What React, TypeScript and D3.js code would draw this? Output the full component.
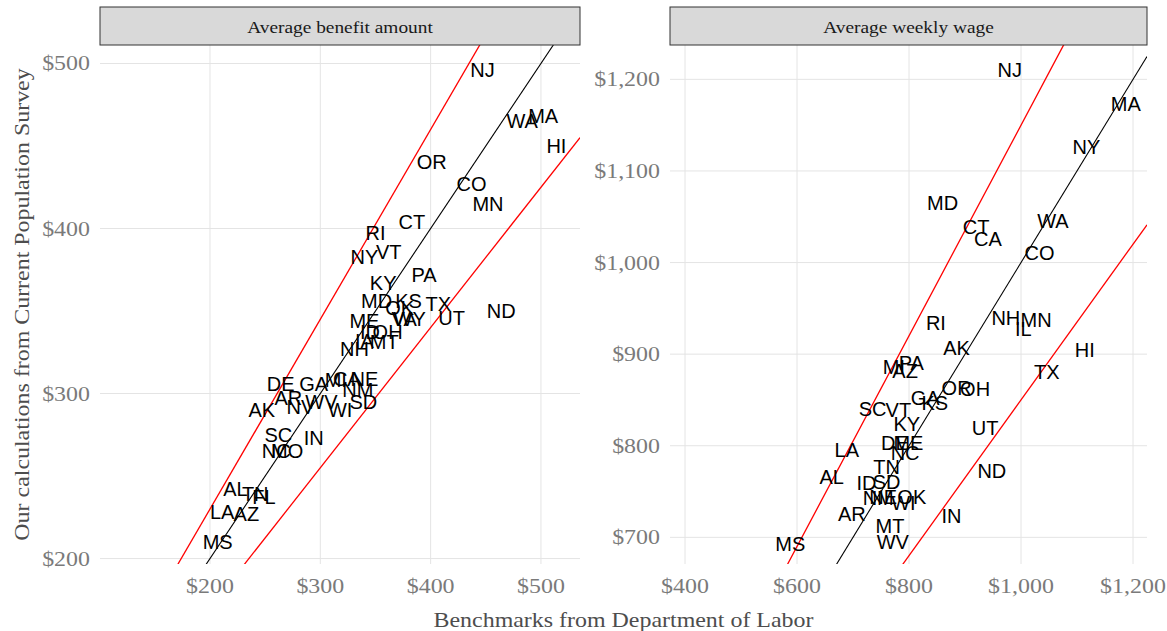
import React, { useEffect, useRef } from 'react'
import * as d3 from 'd3'

const W = 1167
const H = 631

// Average benefit amount (DOL benchmark vs CPS estimate)
const benefitStates = ['NJ', 'WA', 'MA', 'HI', 'OR', 'CO', 'MN', 'CT', 'RI', 'NY', 'VT', 'PA', 'KY', 'MD', 'KS', 'OK', 'TX', 'UT', 'ND', 'ME', 'VA', 'WY', 'ID', 'OH', 'IA', 'MT', 'NH', 'DE', 'GA', 'MI', 'CA', 'NE', 'NM', 'AR', 'NV', 'WV', 'WI', 'SD', 'AK', 'SC', 'IN', 'NC', 'MO', 'AL', 'TN', 'FL', 'LA', 'AZ', 'MS']
const benefitDol = [447, 483, 502, 514, 401, 437, 452, 383, 350, 340, 362, 394, 357, 351, 380, 372, 407, 419, 464, 340, 376, 381, 345, 361, 340, 358, 331, 264, 294, 314, 324, 340, 334, 271, 282, 301, 318, 339, 247, 262, 294, 260, 270, 223, 241, 249, 211, 233, 207]
const benefitCps = [496, 465, 468, 450, 440, 427, 415, 404, 397, 383, 386, 372, 367, 356, 356, 352, 354, 346, 350, 344, 345, 345, 337, 337, 332, 331, 327, 306, 306, 308, 309, 309, 302, 297, 292, 295, 290, 295, 290, 275, 273, 265, 265, 242, 239, 237, 228, 227, 210]
const benefitTicks = [200, 300, 400, 500]

// Average weekly wage
const wageStates = ['NJ', 'MA', 'NY', 'MD', 'CT', 'CA', 'WA', 'CO', 'RI', 'NH', 'MN', 'IL', 'AK', 'HI', 'TX', 'MI', 'PA', 'AZ', 'OR', 'OH', 'GA', 'KS', 'SC', 'VT', 'KY', 'UT', 'LA', 'DE', 'ME', 'NC', 'TN', 'ND', 'AL', 'ID', 'SD', 'NE', 'NM', 'OK', 'WI', 'AR', 'IN', 'MT', 'WV', 'MS']
const wageDol = [980, 1187, 1117, 860, 920, 941, 1057, 1033, 848, 973, 1027, 1004, 885, 1114, 1046, 773, 804, 793, 885, 918, 829, 846, 735, 781, 796, 936, 689, 775, 799, 793, 760, 948, 662, 724, 760, 754, 745, 805, 790, 698, 876, 766, 771, 588]
const wageCps = [1210, 1173, 1126, 1065, 1039, 1026, 1045, 1010, 934, 939, 937, 927, 907, 905, 881, 886, 890, 882, 863, 862, 852, 847, 840, 839, 824, 819, 795, 803, 803, 792, 777, 772, 766, 759, 760, 744, 743, 744, 737, 726, 723, 712, 695, 693]
const wageXTicks = [400, 600, 800, 1000, 1200]
const wageYTicks = [700, 800, 900, 1000, 1100, 1200]

// reference lines: CPS = ratio * DOL
const lineRatios = [1, 1.15, 0.85]
const lineColors = ['#000000', '#ff0000', '#ff0000']

const PANEL_TOP = 45
const PANEL_BOTTOM = 564
const SERIF = '"Liberation Serif", "Times New Roman", serif'
const SANS = '"Liberation Sans", Arial, sans-serif'
const STRETCH = 1.14 // serif text in the reference is drawn a bit wide

const panels = [
  {
    title: 'Average benefit amount',
    states: benefitStates, dol: benefitDol, cps: benefitCps,
    xTicks: benefitTicks, yTicks: benefitTicks,
    xDomain: [100.3, 535.4], yDomain: [196.7, 511.2],
    left: 100, right: 580,
  },
  {
    title: 'Average weekly wage',
    states: wageStates, dol: wageDol, cps: wageCps,
    xTicks: wageXTicks, yTicks: wageYTicks,
    xDomain: [373.2, 1225], yDomain: [670.9, 1237.5],
    left: 670, right: 1147,
  },
]

const fmt = d3.format('$,')

export default function App() {
  const svgRef = useRef<SVGSVGElement>(null)

  useEffect(() => {
    if (!svgRef.current) return
    const svg = d3.select(svgRef.current)
    svg.selectAll('*').remove()

    svg.append('rect').attr('width', W).attr('height', H).attr('fill', '#fff')
    const defs = svg.append('defs')

    panels.forEach((p, i) => {
      const x = d3.scaleLinear().domain(p.xDomain).range([p.left, p.right])
      const y = d3.scaleLinear().domain(p.yDomain).range([PANEL_BOTTOM, PANEL_TOP])
      const g = svg.append('g')

      // grid
      g.selectAll('line.vx')
        .data(p.xTicks)
        .join('line')
        .attr('x1', (d) => x(d)).attr('x2', (d) => x(d))
        .attr('y1', PANEL_TOP).attr('y2', PANEL_BOTTOM)
        .attr('stroke', '#e4e4e4').attr('stroke-width', 1)
      g.selectAll('line.hy')
        .data(p.yTicks)
        .join('line')
        .attr('x1', p.left).attr('x2', p.right)
        .attr('y1', (d) => y(d)).attr('y2', (d) => y(d))
        .attr('stroke', '#e4e4e4').attr('stroke-width', 1)

      // clip for ablines
      const clipId = `clip-${i}`
      defs.append('clipPath').attr('id', clipId)
        .append('rect')
        .attr('x', p.left).attr('y', PANEL_TOP)
        .attr('width', p.right - p.left).attr('height', PANEL_BOTTOM - PANEL_TOP)

      const [x0, x1] = p.xDomain
      g.append('g').attr('clip-path', `url(#${clipId})`)
        .selectAll('line')
        .data(lineRatios)
        .join('line')
        .attr('x1', x(x0)).attr('x2', x(x1))
        .attr('y1', (r) => y(r * x0)).attr('y2', (r) => y(r * x1))
        .attr('stroke', (_, k) => lineColors[k])
        .attr('stroke-width', (_, k) => (k === 0 ? 1.1 : 1.3))

      // state labels
      g.selectAll('text.st')
        .data(p.states)
        .join('text')
        .attr('x', (_, k) => x(p.dol[k]))
        .attr('y', (_, k) => y(p.cps[k]))
        .attr('text-anchor', 'middle')
        .attr('dominant-baseline', 'central')
        .attr('font-family', SANS)
        .attr('font-size', 20)
        .attr('fill', '#000')
        .text((d) => d)

      // strip
      g.append('rect')
        .attr('x', p.left).attr('y', 7)
        .attr('width', p.right - p.left).attr('height', PANEL_TOP - 7)
        .attr('fill', '#d9d9d9').attr('stroke', '#333').attr('stroke-width', 1)
      g.append('text')
        .attr('transform', `translate(${(p.left + p.right) / 2},${27}) scale(${STRETCH},1)`)
        .attr('text-anchor', 'middle')
        .attr('dominant-baseline', 'central')
        .attr('font-family', SERIF)
        .attr('font-size', 17)
        .attr('fill', '#1a1a1a')
        .text(p.title)

      // tick labels
      g.selectAll('text.yt')
        .data(p.yTicks)
        .join('text')
        .attr('transform', (d) => `translate(${p.left - 10},${y(d)}) scale(${STRETCH},1)`)
        .attr('text-anchor', 'end')
        .attr('dominant-baseline', 'central')
        .attr('font-family', SERIF)
        .attr('font-size', 21)
        .attr('fill', '#7a7a7a')
        .text((d) => fmt(d))
      g.selectAll('text.xt')
        .data(p.xTicks)
        .join('text')
        .attr('transform', (d) => `translate(${x(d)},${586}) scale(${STRETCH},1)`)
        .attr('text-anchor', 'middle')
        .attr('dominant-baseline', 'central')
        .attr('font-family', SERIF)
        .attr('font-size', 21)
        .attr('fill', '#7a7a7a')
        .text((d) => fmt(d))
    })

    // axis titles
    svg.append('text')
      .attr('transform', `translate(${(100 + 1147) / 2},${620}) scale(${STRETCH},1)`)
      .attr('text-anchor', 'middle')
      .attr('dominant-baseline', 'central')
      .attr('font-family', SERIF)
      .attr('font-size', 21)
      .attr('fill', '#4d4d4d')
      .text('Benchmarks from Department of Labor')
    svg.append('text')
      .attr('transform', `translate(${22},${(PANEL_TOP + PANEL_BOTTOM) / 2}) rotate(-90) scale(${STRETCH},1)`)
      .attr('text-anchor', 'middle')
      .attr('dominant-baseline', 'central')
      .attr('font-family', SERIF)
      .attr('font-size', 21)
      .attr('fill', '#4d4d4d')
      .text('Our calculations from Current Population Survey')
  }, [])

  return (
    <svg
      ref={svgRef}
      width={W}
      height={H}
      style={{ position: 'absolute', left: 0, top: 0, display: 'block' }}
    />
  )
}
